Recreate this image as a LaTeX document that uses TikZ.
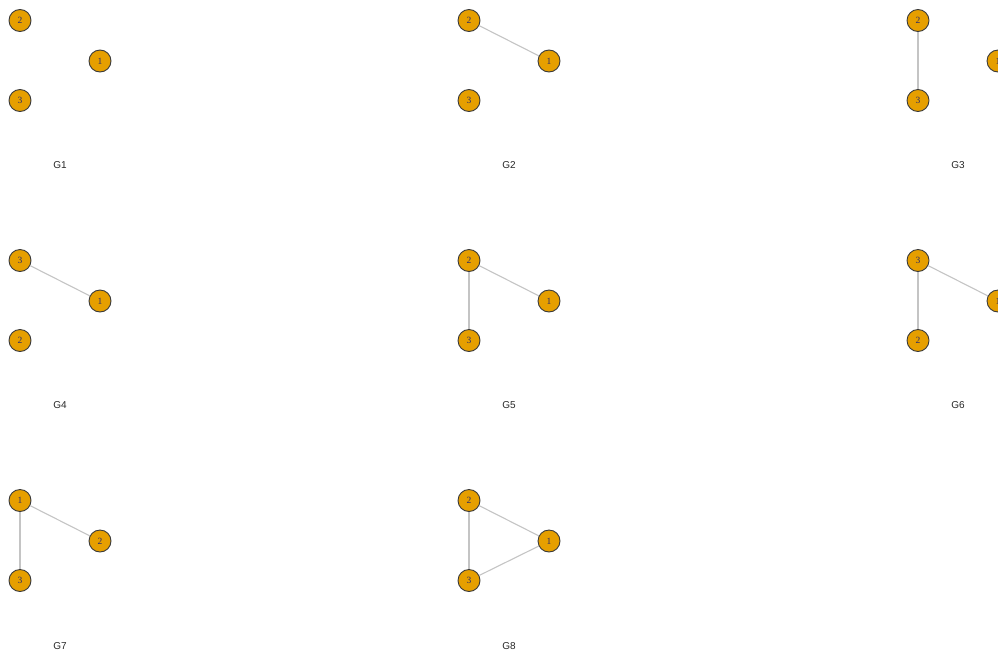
\documentclass[tikz,border=0pt]{standalone}
\usepackage{fontspec}
\setmainfont{Liberation Serif}
\setsansfont{Liberation Sans}
\usepackage{tikz}

\definecolor{vfill}{HTML}{E69F00}
\definecolor{vline}{HTML}{3A3A3A}
\definecolor{vtext}{HTML}{2B2B66}
\definecolor{eline}{HTML}{C4C4C4}

\tikzset{
  vert/.style={circle,draw=vline,line width=0.9pt,fill=vfill,minimum size=22pt,
    inner sep=0pt,text=vtext,font=\fontsize{9.5}{9.5}\selectfont},
  edge/.style={draw=eline,line width=1.1pt},
  glabel/.style={font=\sffamily\fontsize{10}{10}\selectfont,text=black!85}
}

\begin{document}
\begin{tikzpicture}[x=1pt,y=-1pt]
  \useasboundingbox (0,0) rectangle (998,651);
  \clip (0,0) rectangle (998,651);
  % row 1
  \begin{scope}
    \node[vert] (a2) at (20,20.5) {2};
    \node[vert] (a1) at (100,61) {1};
    \node[vert] (a3) at (20,100.5) {3};
    \node[glabel] (la) at (60,165.5) {G1};
  \end{scope}
  \begin{scope}[xshift=449pt]
    \node[vert] (b2) at (20,20.5) {2};
    \node[vert] (b1) at (100,61) {1};
    \node[vert] (b3) at (20,100.5) {3};
    \draw[edge] (b2) -- (b1);
    \node[glabel] (lb) at (60,165.5) {G2};
  \end{scope}
  \begin{scope}[xshift=898pt]
    \node[vert] (c2) at (20,20.5) {2};
    \node[vert] (c1) at (100,61) {1};
    \node[vert] (c3) at (20,100.5) {3};
    \draw[edge] (c2) -- (c3);
    \node[glabel] (lc) at (60,165.5) {G3};
  \end{scope}
  % row 2
  \begin{scope}[yshift=-240pt]
    \node[vert] (d3) at (20,20.5) {3};
    \node[vert] (d1) at (100,61) {1};
    \node[vert] (d2) at (20,100.5) {2};
    \draw[edge] (d3) -- (d1);
    \node[glabel] (ld) at (60,165.5) {G4};
  \end{scope}
  \begin{scope}[xshift=449pt,yshift=-240pt]
    \node[vert] (e2) at (20,20.5) {2};
    \node[vert] (e1) at (100,61) {1};
    \node[vert] (e3) at (20,100.5) {3};
    \draw[edge] (e2) -- (e1);
    \draw[edge] (e2) -- (e3);
    \node[glabel] (le) at (60,165.5) {G5};
  \end{scope}
  \begin{scope}[xshift=898pt,yshift=-240pt]
    \node[vert] (f3) at (20,20.5) {3};
    \node[vert] (f1) at (100,61) {1};
    \node[vert] (f2) at (20,100.5) {2};
    \draw[edge] (f3) -- (f1);
    \draw[edge] (f3) -- (f2);
    \node[glabel] (lf) at (60,165.5) {G6};
  \end{scope}
  % row 3
  \begin{scope}[yshift=-480pt]
    \node[vert] (g1) at (20,20.5) {1};
    \node[vert] (g2) at (100,61) {2};
    \node[vert] (g3) at (20,100.5) {3};
    \draw[edge] (g1) -- (g2);
    \draw[edge] (g1) -- (g3);
    \node[glabel] (lg) at (60,166) {G7};
  \end{scope}
  \begin{scope}[xshift=449pt,yshift=-480pt]
    \node[vert] (h2) at (20,20.5) {2};
    \node[vert] (h1) at (100,61) {1};
    \node[vert] (h3) at (20,100.5) {3};
    \draw[edge] (h2) -- (h1);
    \draw[edge] (h2) -- (h3);
    \draw[edge] (h3) -- (h1);
    \node[glabel] (lh) at (60,166) {G8};
  \end{scope}
\end{tikzpicture}
\end{document}
